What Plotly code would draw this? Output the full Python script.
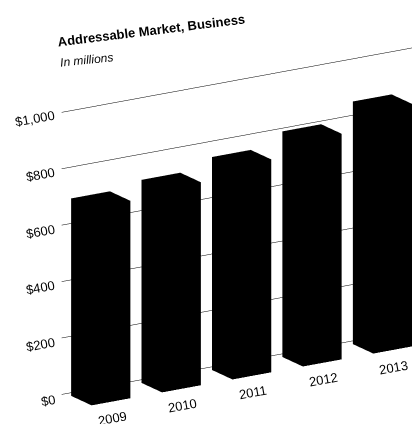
import numpy as np
import plotly.graph_objects as go

# Addressable market, business segment ($ millions)
years = ["2009", "2010", "2011", "2012", "2013"]
market = [700, 720, 755, 800, 860]
tick_vals = [0, 200, 400, 600, 800, 1000]
tick_text = ["$0", "$200", "$400", "$600", "$800", "$1,000"]

# scene geometry (x: year slot, y: depth, z: value)
bar_half = 0.275
bar_depth = 1.0
wall_y = 1.241
x_lo, x_hi = -0.34, 4.9
z_lo, z_hi = 0, 1000

# one closed box per year
vx, vy, vz, ti, tj, tk = [], [], [], [], [], []
faces = [(0, 1, 2), (0, 2, 3), (4, 5, 6), (4, 6, 7), (0, 1, 5), (0, 5, 4),
         (1, 2, 6), (1, 6, 5), (2, 3, 7), (2, 7, 6), (3, 0, 4), (3, 4, 7)]
for i, v in enumerate(market):
    x0, x1 = i - bar_half, i + bar_half
    base = len(vx)
    for x, y, z in [(x0, 0, 0), (x1, 0, 0), (x1, bar_depth, 0), (x0, bar_depth, 0),
                    (x0, 0, v), (x1, 0, v), (x1, bar_depth, v), (x0, bar_depth, v)]:
        vx.append(x); vy.append(y); vz.append(z)
    for a, b, c in faces:
        ti.append(base + a); tj.append(base + b); tk.append(base + c)

fig = go.Figure(go.Mesh3d(
    x=vx, y=vy, z=vz, i=ti, j=tj, k=tk,
    color="black", flatshading=True, hoverinfo="skip",
    lighting=dict(ambient=1, diffuse=0, specular=0, roughness=1, fresnel=0),
))

# box proportions; in orthographic mode the overall size also sets the zoom
zoom = 1.391
aspect = np.array([1.479, 0.1622, 1.0]) * zoom

# oblique view from the front-left, slightly above
theta = np.radians(16.97)
phi = np.radians(237.79)
view = np.array([np.cos(theta) * np.cos(phi), np.cos(theta) * np.sin(phi), np.sin(theta)])
center = np.array([-0.1433 * aspect[0], 0.0, 0.0819 * aspect[2]])
eye = center + view * 2.5

FONT = "Liberation Sans"
scene_notes = []
for v, t in zip(tick_vals, tick_text):
    scene_notes.append(dict(x=x_lo, y=wall_y, z=v, text=t, showarrow=False,
                            xanchor="right", yanchor="middle", xshift=-3, yshift=-6,
                            textangle=-10, font=dict(family=FONT, size=13, color="black")))
for i, yr in enumerate(years):
    scene_notes.append(dict(x=i, y=0, z=0, text=yr, showarrow=False,
                            xanchor="center", yanchor="middle", xshift=1, yshift=-17,
                            textangle=-10, font=dict(family=FONT, size=13, color="black")))

hidden = dict(showgrid=False, zeroline=False, showline=False, showticklabels=False,
              ticks="", title=dict(text=""), showbackground=False, showspikes=False)
zaxis = dict(hidden, showgrid=True, gridcolor="black", gridwidth=1,
             tickvals=tick_vals, range=[z_lo, z_hi])

fig.update_layout(
    width=412, height=424,
    margin=dict(l=0, r=0, t=0, b=0),
    paper_bgcolor="white",
    showlegend=False,
    scene=dict(
        domain=dict(x=[0, 1], y=[0, 1]),
        xaxis=dict(hidden, range=[x_lo, x_hi]),
        yaxis=dict(hidden, range=[0, wall_y]),
        zaxis=zaxis,
        aspectmode="manual",
        aspectratio=dict(x=aspect[0], y=aspect[1], z=aspect[2]),
        camera=dict(
            projection=dict(type="orthographic"),
            up=dict(x=0, y=0, z=1),
            center=dict(x=center[0], y=center[1], z=center[2]),
            eye=dict(x=eye[0], y=eye[1], z=eye[2]),
        ),
        annotations=scene_notes,
        dragmode=False,
    ),
    annotations=[
        dict(x=151 / 412, y=1 - 30 / 424, xref="paper", yref="paper",
             text="<b>Addressable Market, Business</b>", showarrow=False,
             xanchor="center", yanchor="middle", textangle=-7,
             font=dict(family=FONT, size=13, color="black")),
        dict(x=86 / 412, y=1 - 60 / 424, xref="paper", yref="paper",
             text="<i>In millions</i>", showarrow=False,
             xanchor="center", yanchor="middle", textangle=-6,
             font=dict(family=FONT, size=12, color="black")),
    ],
)

fig.write_html("out.html", config={"displayModeBar": False})
